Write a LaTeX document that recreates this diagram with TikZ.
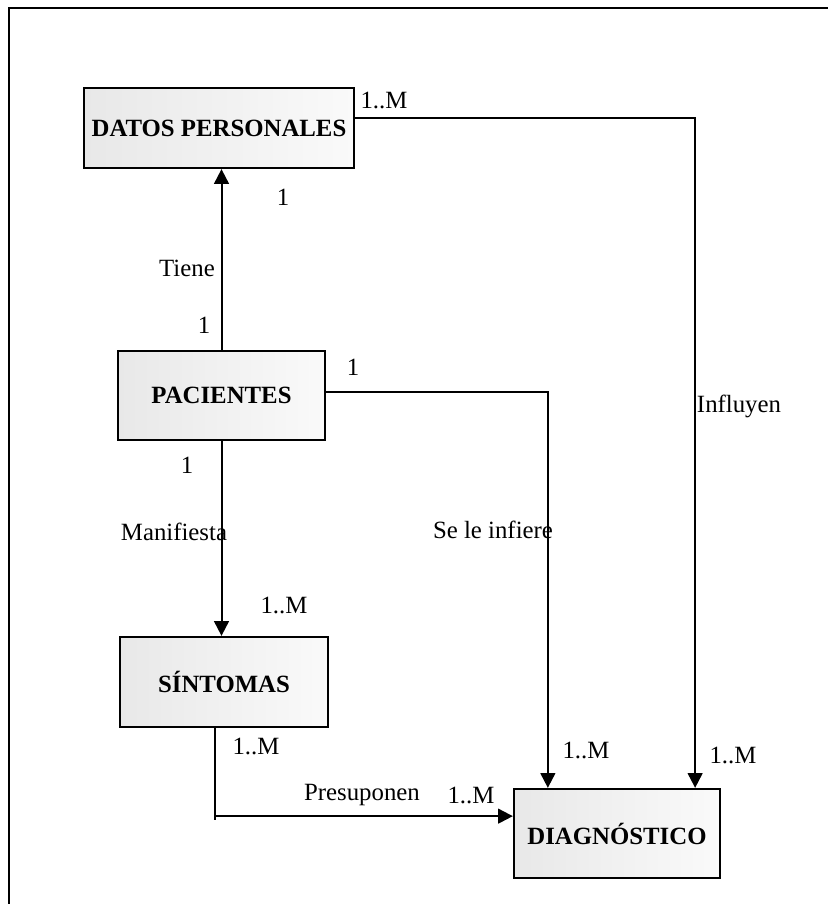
\documentclass[tikz,border=0pt]{standalone}
\usepackage{fontspec}
\setmainfont{Liberation Serif}
\usetikzlibrary{arrows.meta,calc}
\tikzset{
  entity/.style={draw=black, line width=1.7pt, rectangle, inner sep=0pt,
    left color=black!9, right color=black!2,
    font=\fontsize{18.6}{22}\selectfont\bfseries},
  link/.style={draw=black, line width=1.5pt},
  arr/.style={link, -{Triangle[length=11pt,width=11pt]}},
  lbl/.style={inner sep=0pt, anchor=center, font=\fontsize{18.6}{22}\selectfont},
  frame/.style={draw=black, line width=1.6pt}
}
\begin{document}
\begin{tikzpicture}[x=0.75pt,y=-0.75pt]
\useasboundingbox (0,0) rectangle (828,904);
% outer frame (left and top edges)
\draw[frame] (9,904) -- (9,8) -- (828,8);

% entities
\node[entity, minimum width=270*0.75pt, minimum height=80*0.75pt] (dat) at (219,128) {DATOS PERSONALES};
\node[entity, minimum width=207*0.75pt, minimum height=89*0.75pt] (pac) at (221.5,395.5) {PACIENTES};
\node[entity, minimum width=208*0.75pt, minimum height=90*0.75pt] (sin) at (224,682) {SÍNTOMAS};
\node[entity, minimum width=206*0.75pt, minimum height=89*0.75pt] (dia) at (617,833.5) {DIAGNÓSTICO};

% relationships
\draw[arr] (pac.north) -- (pac.north |- dat.south);
\draw[arr] (pac.south) -- (pac.south |- sin.north);
\draw[arr] ($(pac.east)+(0,-3.5)$) -| ($(dia.north west)+(35,0)$);
\draw[arr] ($(dat.east)+(0,-10)$) -| ($(dia.north east)+(-26,0)$);
\coordinate (sp) at ($(sin.south west)+(96,88)$);
\draw[arr] ($(sin.south west)+(96,0)$) -- (sp) -- (sp -| dia.west);
\draw[link] (sp) -- ++(0,4);

% cardinalities and relationship names
\node[lbl] (c1) at (384,100) {1..M};
\node[lbl] (c2) at (283,197) {1};
\node[lbl] (r1) at (187,268) {Tiene};
\node[lbl] (c3) at (204,325) {1};
\node[lbl] (c4) at (353,367) {1};
\node[lbl] (r2) at (739,406) {Influyen};
\node[lbl] (c5) at (187,465) {1};
\node[lbl] (r3) at (174,532) {Manifiesta};
\node[lbl] (r4) at (493,530) {Se le infiere};
\node[lbl] (c6) at (284,605) {1..M};
\node[lbl] (c7) at (256,746) {1..M};
\node[lbl] (c8) at (586,750) {1..M};
\node[lbl] (c9) at (733,755) {1..M};
\node[lbl] (r5) at (362,795) {Presuponen};
\node[lbl] (c10) at (471,795) {1..M};
\end{tikzpicture}
\end{document}
